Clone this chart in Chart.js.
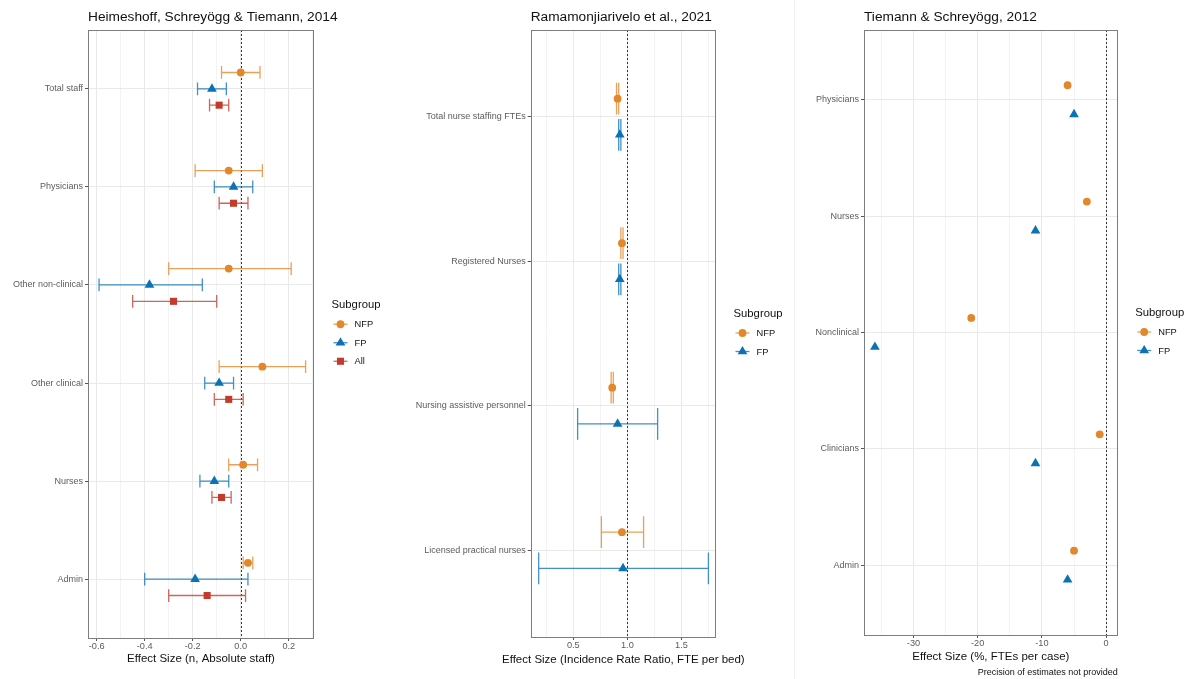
<!DOCTYPE html>
<html>
<head>
<meta charset="utf-8">
<title>Staffing effect sizes by ownership</title>
<script src="https://cdn.jsdelivr.net/npm/chart.js@4.4.1/dist/chart.umd.min.js"></script>
<style>
  html, body { margin: 0; padding: 0; background: #fff; }
  #wrap { position: relative; width: 1191px; height: 679px; overflow: hidden; }
  #wrap canvas { position: absolute; top: 0; }
  #sep { position: absolute; left: 794px; top: 0; width: 1px; height: 679px; background: #f1f1f1; }
</style>
</head>
<body>
<div id="wrap">
  <canvas id="staffChart" width="400" height="679" style="left:0"></canvas>
  <canvas id="nurseChart" width="395" height="679" style="left:400px"></canvas>
  <div id="sep"></div>
  <canvas id="caseChart" width="396" height="679" style="left:795px"></canvas>
</div>
<script>
// Heimeshoff, Schreyögg & Tiemann, 2014 -- absolute staff
const staffCategories = ['Total staff', 'Physicians', 'Other non-clinical', 'Other clinical', 'Nurses', 'Admin'];
const staffNfp      = [0.00, -0.05, -0.05, 0.09, 0.01, 0.03];
const staffNfpLow   = [-0.08, -0.19, -0.30, -0.09, -0.05, 0.01];
const staffNfpHigh  = [0.08, 0.09, 0.21, 0.27, 0.07, 0.05];
const staffFp       = [-0.12, -0.03, -0.38, -0.09, -0.11, -0.19];
const staffFpLow    = [-0.18, -0.11, -0.59, -0.15, -0.17, -0.40];
const staffFpHigh   = [-0.06, 0.05, -0.16, -0.03, -0.05, 0.03];
const staffAll      = [-0.09, -0.03, -0.28, -0.05, -0.08, -0.14];
const staffAllLow   = [-0.13, -0.09, -0.45, -0.11, -0.12, -0.30];
const staffAllHigh  = [-0.05, 0.03, -0.10, 0.01, -0.04, 0.02];
const staffTicks    = [-0.6, -0.4, -0.2, 0, 0.2];
const staffGrid     = [-0.6, -0.5, -0.4, -0.3, -0.2, -0.1, 0, 0.1, 0.2, 0.3];

// Ramamonjiarivelo et al., 2021 -- incidence rate ratios
const nurseCategories = ['Total nurse staffing FTEs', 'Registered Nurses', 'Nursing assistive personnel', 'Licensed practical nurses'];
const nurseNfp      = [0.91, 0.95, 0.86, 0.95];
const nurseNfpLow   = [0.90, 0.94, 0.85, 0.76];
const nurseNfpHigh  = [0.92, 0.96, 0.87, 1.15];
const nurseFp       = [0.93, 0.93, 0.91, 0.96];
const nurseFpLow    = [0.92, 0.92, 0.54, 0.18];
const nurseFpHigh   = [0.94, 0.94, 1.28, 1.75];
const nurseTicks    = [0.5, 1.0, 1.5];
const nurseGrid     = [0.25, 0.5, 0.75, 1.0, 1.25, 1.5, 1.75];

// Tiemann & Schreyögg, 2012 -- % change in FTEs per case
const caseCategories = ['Physicians', 'Nurses', 'Nonclinical', 'Clinicians', 'Admin'];
const caseNfp       = [-6, -3, -21, -1, -5];
const caseFp        = [-5, -11, -36, -11, -6];
const caseTicks     = [-30, -20, -10, 0];
const caseGrid      = [-35, -30, -25, -20, -15, -10, -5, 0];

const FONT = '"Liberation Sans", Arial, Helvetica, sans-serif';
const NFP_COLOR = '#E3872B';
const FP_COLOR = '#0B72B5';
const ALL_COLOR = '#C23B2C';
const DODGE = 0.5;

function fade(hex, a) {
  const n = parseInt(hex.slice(1), 16);
  return 'rgba(' + (n >> 16) + ',' + ((n >> 8) & 255) + ',' + (n & 255) + ',' + a + ')';
}

const forestPlugin = {
  id: 'forest',
  beforeDatasetsDraw(chart, args, opts) {
    const { ctx, chartArea: a } = chart;
    const x = chart.scales.x, y = chart.scales.y;
    ctx.save();
    // dotted no-effect line
    const rx = Math.round(x.getPixelForValue(opts.refValue)) + 0.5;
    ctx.strokeStyle = '#333';
    ctx.lineWidth = 1;
    ctx.setLineDash([2, 2]);
    ctx.beginPath();
    ctx.moveTo(rx, a.top);
    ctx.lineTo(rx, a.bottom);
    ctx.stroke();
    ctx.setLineDash([]);

    // confidence intervals with caps
    chart.data.datasets.forEach(ds => {
      if (!ds.errLow) return;
      ctx.strokeStyle = ds.errColor;
      ctx.lineWidth = 1.3;
      ds.data.forEach((p, i) => {
        const x0 = x.getPixelForValue(ds.errLow[i]);
        const x1 = x.getPixelForValue(ds.errHigh[i]);
        const yc = y.getPixelForValue(p.y);
        const yt = y.getPixelForValue(p.y - opts.capHalf);
        const yb = y.getPixelForValue(p.y + opts.capHalf);
        ctx.beginPath();
        ctx.moveTo(x0, yc); ctx.lineTo(x1, yc);
        ctx.moveTo(x0, yt); ctx.lineTo(x0, yb);
        ctx.moveTo(x1, yt); ctx.lineTo(x1, yb);
        ctx.stroke();
      });
    });
    ctx.restore();
  },
  afterDatasetsDraw(chart) {
    const { ctx, chartArea: a } = chart;
    ctx.save();
    ctx.strokeStyle = '#7d7d7d';
    ctx.lineWidth = 1;
    ctx.strokeRect(Math.round(a.left) + 0.5, Math.round(a.top) + 0.5,
      Math.round(a.right - a.left) - 1, Math.round(a.bottom - a.top));
    ctx.restore();
  },
  afterDraw(chart, args, opts) {
    const { ctx, chartArea: a } = chart;
    ctx.save();
    ctx.textBaseline = 'middle';
    ctx.textAlign = 'left';

    // panel title
    ctx.fillStyle = '#111';
    ctx.font = '13.7px ' + FONT;
    ctx.fillText(opts.title, a.left, 17);

    // x axis title, centred under the panel and free to run wider than it
    ctx.textAlign = 'center';
    ctx.font = '11.5px ' + FONT;
    ctx.fillText(opts.xTitle, (a.left + a.right) / 2, opts.xTitleY);
    ctx.textAlign = 'left';

    // legend
    const sets = chart.data.datasets;
    const midY = (a.top + a.bottom) / 2;
    const lx = a.right + 17.5;
    let ly = midY - (19.5 + (sets.length - 1) * 18.5) / 2 - 1;
    ctx.font = '11.3px ' + FONT;
    ctx.fillStyle = '#111';
    ctx.fillText('Subgroup', lx, ly);
    ly += 19.5;
    ctx.font = '9.3px ' + FONT;
    sets.forEach(ds => {
      ctx.strokeStyle = ds.errColor;
      ctx.lineWidth = 1.3;
      ctx.beginPath();
      ctx.moveTo(lx + 2, ly);
      ctx.lineTo(lx + 16, ly);
      ctx.stroke();
      ctx.fillStyle = ds.backgroundColor;
      Chart.helpers.drawPoint(ctx, { pointStyle: ds.pointStyle, radius: ds.pointRadius, rotation: 0, borderWidth: 0 }, lx + 9, ly);
      ctx.fillStyle = '#111';
      ctx.fillText(ds.label, lx + 23, ly + 0.5);
      ly += 18.5;
    });

    // footnote
    if (opts.caption) {
      ctx.font = '9px ' + FONT;
      ctx.textAlign = 'right';
      ctx.fillStyle = '#111';
      ctx.fillText(opts.caption, a.right, 672.5);
    }
    ctx.restore();
  }
};

function makePanel(id, cfg) {
  const canvas = document.getElementById(id);
  const W = canvas.width, H = canvas.height;
  const n = cfg.series.length;
  const datasets = cfg.series.map((s, k) => {
    const shift = (k - (n - 1) / 2) * DODGE / n;
    return {
      label: s.label,
      data: s.est.map((v, i) => ({ x: v, y: i + 1 + shift })),
      errLow: s.low,
      errHigh: s.high,
      errColor: fade(s.color, 0.78),
      backgroundColor: s.color,
      borderWidth: 0,
      pointStyle: s.style,
      pointRadius: s.radius,
      pointHoverRadius: s.radius
    };
  });
  const majorSet = cfg.xTicks.map(v => v.toFixed(4));
  const isMajor = v => majorSet.includes(Number(v).toFixed(4));

  return new Chart(canvas, {
    type: 'scatter',
    data: { datasets },
    plugins: [forestPlugin],
    options: {
      responsive: false,
      animation: false,
      events: [],
      layout: { padding: { top: cfg.area.top, left: 0, right: W - cfg.area.right, bottom: 0 } },
      plugins: {
        legend: { display: false },
        tooltip: { enabled: false },
        forest: {
          refValue: cfg.refValue, capHalf: cfg.capHalf, title: cfg.title,
          xTitle: cfg.xTitle, xTitleY: cfg.xTitleY, caption: cfg.caption
        }
      },
      scales: {
        x: {
          type: 'linear',
          min: cfg.xRange[0],
          max: cfg.xRange[1],
          border: { display: false },
          afterBuildTicks: scale => { scale.ticks = cfg.xGrid.map(v => ({ value: v })); },
          afterFit: scale => { scale.height = H - cfg.area.bottom; },
          grid: {
            color: ctx => ctx.tick && isMajor(ctx.tick.value) ? '#e9e9e9' : '#f3f3f3',
            tickColor: ctx => ctx.tick && isMajor(ctx.tick.value) ? '#555' : 'rgba(0,0,0,0)',
            tickLength: 3
          },
          ticks: {
            autoSkip: false,
            maxRotation: 0,
            padding: 0,
            color: '#5c5c5c',
            font: { family: FONT, size: 9.2 },
            callback: v => isMajor(v) ? Number(v).toFixed(cfg.decimals) : ''
          }
        },
        y: {
          type: 'linear',
          reverse: true,
          min: 0.4,
          max: cfg.categories.length + 0.6,
          border: { display: false },
          afterBuildTicks: scale => { scale.ticks = cfg.categories.map((c, i) => ({ value: i + 1 })); },
          afterFit: scale => { scale.width = cfg.area.left; },
          grid: { color: '#e9e9e9', tickColor: '#555', tickLength: 3 },
          ticks: {
            autoSkip: false,
            padding: 2,
            color: '#5c5c5c',
            font: { family: FONT, size: 9 },
            callback: v => cfg.categories[Math.round(v) - 1]
          }
        }
      }
    }
  });
}

makePanel('staffChart', {
  title: 'Heimeshoff, Schreyögg & Tiemann, 2014',
  xTitle: 'Effect Size (n, Absolute staff)',
  xTitleY: 659,
  categories: staffCategories,
  series: [
    { label: 'NFP', color: NFP_COLOR, style: 'circle', radius: 3.9, est: staffNfp, low: staffNfpLow, high: staffNfpHigh },
    { label: 'FP', color: FP_COLOR, style: 'triangle', radius: 5.6, est: staffFp, low: staffFpLow, high: staffFpHigh },
    { label: 'All', color: ALL_COLOR, style: 'rect', radius: 5, est: staffAll, low: staffAllLow, high: staffAllHigh }
  ],
  xRange: [-0.636, 0.305],
  xTicks: staffTicks,
  xGrid: staffGrid,
  decimals: 1,
  refValue: 0,
  capHalf: 0.065,
  area: { left: 88, right: 314, top: 30, bottom: 638 }
});

makePanel('nurseChart', {
  title: 'Ramamonjiarivelo et al., 2021',
  xTitle: 'Effect Size (Incidence Rate Ratio, FTE per bed)',
  xTitleY: 659.5,
  categories: nurseCategories,
  series: [
    { label: 'NFP', color: NFP_COLOR, style: 'circle', radius: 3.9, est: nurseNfp, low: nurseNfpLow, high: nurseNfpHigh },
    { label: 'FP', color: FP_COLOR, style: 'triangle', radius: 5.6, est: nurseFp, low: nurseFpLow, high: nurseFpHigh }
  ],
  xRange: [0.106, 1.82],
  xTicks: nurseTicks,
  xGrid: nurseGrid,
  decimals: 1,
  refValue: 1,
  capHalf: 0.11,
  area: { left: 130.7, right: 316, top: 30, bottom: 637 }
});

makePanel('caseChart', {
  title: 'Tiemann & Schreyögg, 2012',
  xTitle: 'Effect Size (%, FTEs per case)',
  xTitleY: 657.3,
  caption: 'Precision of estimates not provided',
  categories: caseCategories,
  series: [
    { label: 'NFP', color: NFP_COLOR, style: 'circle', radius: 3.9, est: caseNfp },
    { label: 'FP', color: FP_COLOR, style: 'triangle', radius: 5.6, est: caseFp }
  ],
  xRange: [-37.7, 1.8],
  xTicks: caseTicks,
  xGrid: caseGrid,
  decimals: 0,
  refValue: 0,
  capHalf: 0.1,
  area: { left: 69, right: 322.7, top: 30, bottom: 635 }
});
</script>
</body>
</html>
